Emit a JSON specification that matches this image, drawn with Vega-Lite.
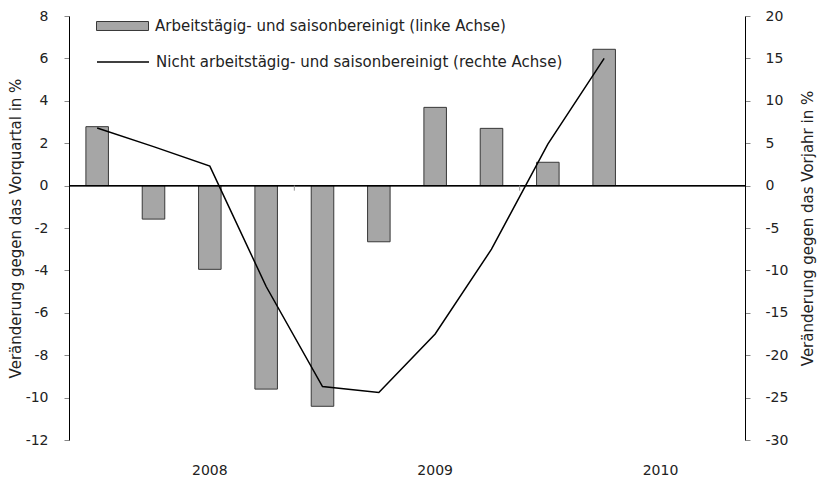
{
  "$schema": "https://vega.github.io/schema/vega-lite/v6.json",
  "width": 676,
  "height": 424,
  "autosize": "none",
  "padding": {"left": 69, "top": 16, "right": 83, "bottom": 40},
  "background": "white",
  "config": {
    "font": "DejaVu Sans",
    "view": {"stroke": null},
    "axis": {"labelFont": "DejaVu Sans", "titleFont": "DejaVu Sans", "labelFontSize": 14, "titleFontSize": 15, "labelColor": "#222", "titleColor": "#222", "titleFontWeight": "normal", "grid": false},
    "legend": {"labelFont": "DejaVu Sans", "labelFontSize": 15, "labelColor": "#222", "labelLimit": 0}
  },
  "data": {
    "values": [
      {"q": "2008Q1", "bar": 2.78, "line": 6.8},
      {"q": "2008Q2", "bar": -1.58, "line": 4.6},
      {"q": "2008Q3", "bar": -3.95, "line": 2.3},
      {"q": "2008Q4", "bar": -9.6, "line": -11.9},
      {"q": "2009Q1", "bar": -10.41, "line": -23.7},
      {"q": "2009Q2", "bar": -2.65, "line": -24.4},
      {"q": "2009Q3", "bar": 3.69, "line": -17.5},
      {"q": "2009Q4", "bar": 2.7, "line": -7.5},
      {"q": "2010Q1", "bar": 1.1, "line": 4.9},
      {"q": "2010Q2", "bar": 6.43, "line": 15.0}
    ]
  },
  "encoding": {
    "x": {
      "field": "q",
      "type": "ordinal",
      "sort": null,
      "scale": {
        "domain": ["2008Q1","2008Q2","2008Q3","2008Q4","2009Q1","2009Q2","2009Q3","2009Q4","2010Q1","2010Q2","2010Q3","2010Q4"],
        "paddingInner": 0.6,
        "paddingOuter": 0.3
      },
      "axis": {
        "title": null,
        "domain": false,
        "ticks": false,
        "labelAngle": 0,
        "labelPadding": 23,
        "labelExpr": "indexof(datum.value, 'Q3') >= 0 ? slice(datum.value, 0, 4) : ''"
      }
    }
  },
  "layer": [
    {
      "layer": [
        {
          "mark": {"type": "bar", "stroke": "#383838", "strokeWidth": 1},
          "encoding": {
            "y": {
              "field": "bar",
              "type": "quantitative",
              "scale": {"domain": [-12, 8], "nice": false, "zero": false},
              "axis": {
                "orient": "left",
                "title": "Veränderung gegen das Vorquartal in %",
                "values": [-12, -10, -8, -6, -4, -2, 0, 2, 4, 6, 8],
                "labelExpr": "'' + datum.value",
                "domainColor": "black",
                "tickColor": "#888",
                "tickSize": 5,
                "labelPadding": 16,
                "titlePadding": 2
              }
            },
            "fill": {
              "datum": "Arbeitstägig- und saisonbereinigt (linke Achse)",
              "scale": {"range": ["#a6a6a6"]},
              "legend": {
                "orient": "none",
                "legendX": 27,
                "legendY": -16.5,
                "title": null,
                "padding": 0,
                "symbolType": "M-1,-0.173H1V0.173H-1Z",
                "symbolSize": 2704,
                "symbolStrokeColor": "#383838",
                "symbolStrokeWidth": 1,
                "labelOffset": 6
              }
            }
          }
        },
        {
          "mark": {"type": "rule", "color": "black", "strokeWidth": 1},
          "encoding": {"y": {"datum": 0}, "x": null}
        },
        {
          "data": {"values": [{"q": "2008Q4"}, {"q": "2009Q4"}]},
          "mark": {"type": "rule", "color": "#999", "strokeWidth": 1},
          "encoding": {
            "x": {"field": "q", "type": "ordinal", "bandPosition": 1.75},
            "y": {"datum": 0},
            "y2": {"datum": -0.24}
          }
        }
      ]
    },
    {
      "mark": {"type": "line", "color": "black", "strokeWidth": 1.5},
      "encoding": {
        "y": {
          "field": "line",
          "type": "quantitative",
          "scale": {"domain": [-30, 20], "nice": false, "zero": false},
          "axis": {
            "orient": "right",
            "title": "Veränderung gegen das Vorjahr in %",
            "titleAngle": 270,
            "values": [-30, -25, -20, -15, -10, -5, 0, 5, 10, 15, 20],
            "labelExpr": "'' + datum.value",
            "domainColor": "black",
            "tickColor": "#888",
            "tickSize": 5,
            "labelPadding": 15,
            "titlePadding": 28
          }
        },
        "stroke": {
          "datum": "Nicht arbeitstägig- und saisonbereinigt (rechte Achse)",
          "scale": {"range": ["black"]},
          "legend": {
            "orient": "none",
            "legendX": 27,
            "legendY": 19,
            "title": null,
            "padding": 0,
            "symbolType": "stroke",
            "symbolSize": 2704,
            "symbolStrokeWidth": 1.5,
            "labelOffset": 6
          }
        }
      }
    }
  ],
  "resolve": {"scale": {"y": "independent", "fill": "independent", "stroke": "independent"}}
}
